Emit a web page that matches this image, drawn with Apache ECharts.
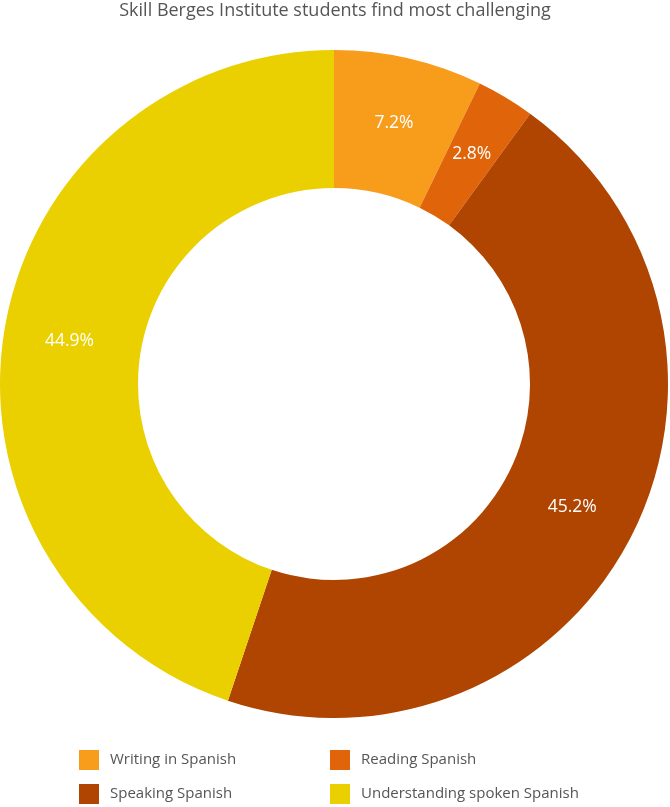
<!DOCTYPE html>
<html>
<head>
<meta charset="utf-8">
<script src="https://cdn.jsdelivr.net/npm/echarts@6/dist/echarts.min.js"></script>
<style>
  html, body { margin: 0; padding: 0; background: #fff; }
  #chart { width: 670px; height: 807px; }
</style>
</head>
<body>
<div id="chart"></div>
<script>
// 数据
const categories = ['Writing in Spanish', 'Reading Spanish', 'Speaking Spanish', 'Understanding spoken Spanish']
const values = [7.2, 2.8, 45.2, 44.9]
const colors = ['#F89C1C', '#E0650A', '#AF4500', '#EAD000']

const myChart = echarts.init(document.getElementById('chart'))
const font = '"Open Sans", "Noto Sans", sans-serif'
// 图例公共样式
const legendBase = {
  orient: 'vertical',
  top: 745,
  height: 80,
  itemWidth: 20,
  itemHeight: 20,
  itemGap: 14,
  icon: 'rect',
  textStyle: { fontFamily: font, fontSize: 15, color: '#555', padding: [0, 0, 0, 6] }
}
const option = {
  animation: false,
  color: colors,
  title: {
    text: 'Skill Berges Institute students find most challenging',
    left: 'center',
    top: -3,
    textStyle: {
      fontFamily: font,
      fontSize: 18,
      fontWeight: 'normal',
      color: '#555'
    }
  },
  legend: [
    Object.assign({}, legendBase, { left: 74, data: [categories[0], categories[2]] }),
    Object.assign({}, legendBase, { left: 325, data: [categories[1], categories[3]] })
  ],
  series: [
    {
      type: 'pie',
      center: [334, 384],
      radius: [196, 334],
      startAngle: 90,
      clockwise: true,
      label: {
        show: true,
        position: 'inside',
        formatter: '{c}%',
        color: '#fff',
        fontFamily: font,
        fontSize: 17.5
      },
      labelLine: { show: false },
      emphasis: { disabled: true },
      data: categories.map((name, i) => ({ name: name, value: values[i] }))
    }
  ]
}
myChart.setOption(option)
</script>
</body>
</html>
